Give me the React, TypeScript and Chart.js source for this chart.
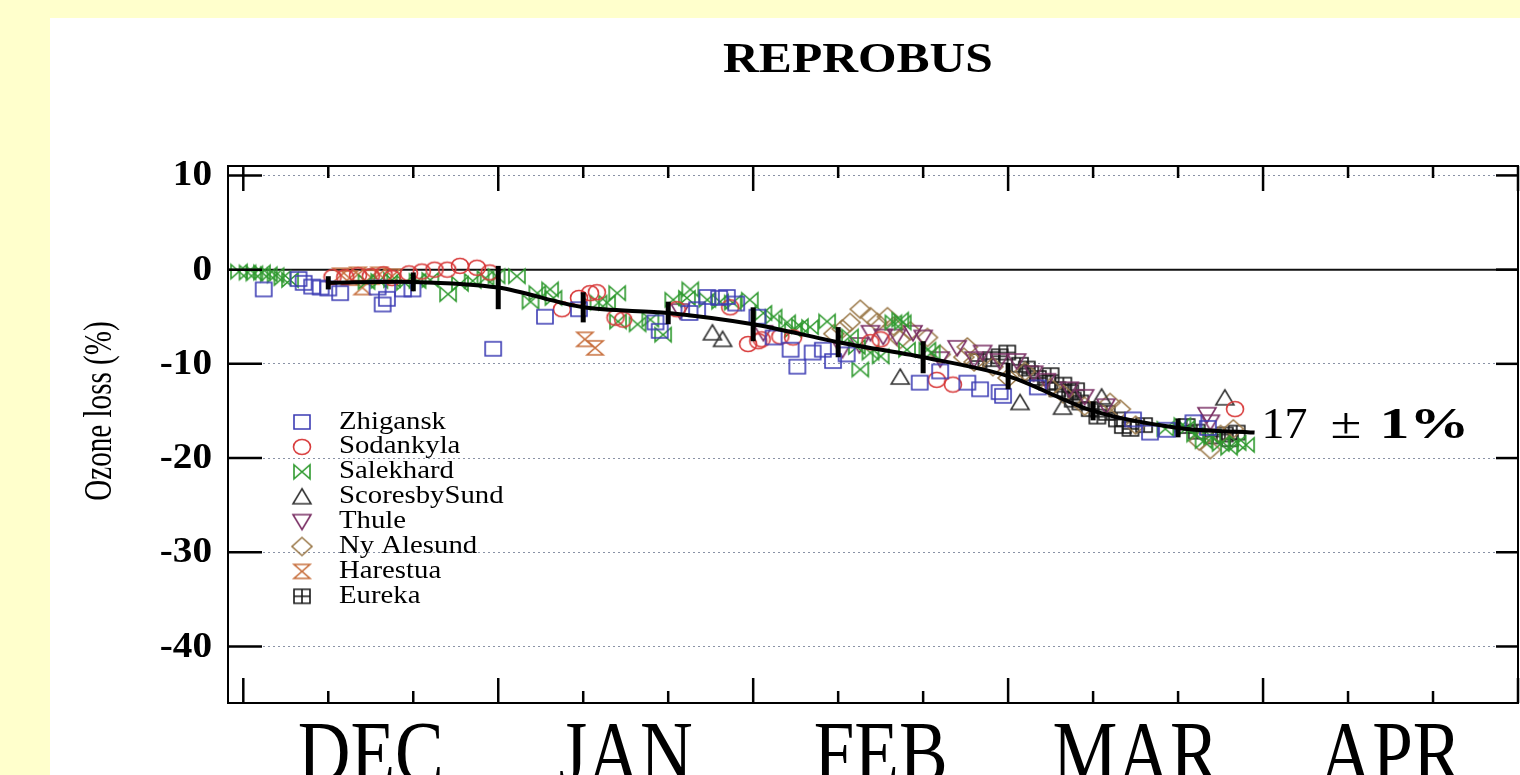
import React, { useEffect, useRef } from 'react';
import { Chart, registerables } from 'chart.js';

Chart.register(...registerables);

// ---------- text ----------
const TITLE = 'REPROBUS';
const Y_TITLE = 'Ozone loss (%)';
const MONTHS = ['DEC', 'JAN', 'FEB', 'MAR', 'APR'];
const MONTH_CENTERS = [15, 45, 75, 105, 135]; // days since 1 Dec
const X_TICKS = [0, 10, 20, 30, 40, 50, 60, 70, 80, 90, 100, 110, 120, 130, 140, 150];
const MONTH_LEN = 30;
const ANNOT_PARTS = ['17', '±', '1%'];

// ---------- axis ranges ----------
const X_MIN = -1.8;
const X_MAX = 150;
const Y_MIN = -46;
const Y_MAX = 11;
const Y_STEP = 10;

// ---------- station data: [day since 1 Dec, ozone loss %] ----------
const zhigansk = [
  [2.4, -2.1], [6.5, -1.0], [7.1, -1.4], [8.1, -1.8], [9.1, -1.9], [10.0, -2.0], [11.4, -2.5],
  [15.8, -1.9], [16.4, -3.7], [16.9, -3.1], [18.8, -2.1], [19.9, -2.1], [29.4, -8.4], [35.5, -5.0],
  [39.5, -4.2], [48.5, -5.6], [49.0, -6.5], [52.5, -4.6], [53.4, -4.2], [54.6, -2.9], [56.0, -3.0],
  [56.9, -2.9], [58.0, -3.6], [60.5, -5.0], [62.4, -7.2], [64.4, -8.5], [65.2, -10.3], [67.0, -8.8],
  [68.2, -8.5], [69.4, -9.7], [71.0, -9.0], [79.6, -12.0], [82.0, -10.8], [85.2, -12.0], [86.7, -12.7],
  [89.0, -13.0], [89.4, -13.4], [93.5, -12.5], [104.7, -15.9], [106.7, -17.3], [108.7, -17.0],
  [111.8, -16.2], [113.5, -16.8],
];
const sodankyla = [
  [10.5, -0.8], [12.0, -0.8], [13.5, -0.6], [15.0, -0.7], [16.5, -0.5], [17.5, -0.9], [19.5, -0.4],
  [21.0, -0.2], [22.5, 0.0], [24.0, 0.0], [25.5, 0.4], [27.5, 0.2], [29.0, -0.3], [37.5, -4.2],
  [39.5, -3.0], [40.8, -2.5], [41.6, -2.4], [43.8, -5.1], [44.7, -5.3], [51.0, -4.2], [57.3, -4.0],
  [59.4, -7.9], [60.6, -7.6], [61.0, -7.4], [63.2, -7.1], [64.7, -7.2], [73.8, -7.7], [75.0, -7.4],
  [81.6, -11.7], [83.5, -12.2], [116.7, -14.8],
];
const salekhard = [
  [-0.5, -0.2], [0.5, -0.3], [1.3, -0.4], [2.2, -0.3], [3.0, -0.5], [3.8, -0.6], [4.6, -0.9], [5.5, -1.1],
  [14.5, -1.3], [16.0, -1.2], [17.5, -1.1], [19.0, -1.4], [20.5, -1.2], [22.0, -1.1], [24.1, -2.6],
  [25.5, -1.5], [27.0, -1.2], [28.5, -0.9], [29.8, -0.7], [32.2, -0.7], [33.8, -3.4], [34.6, -2.5],
  [36.1, -2.1], [36.5, -3.0], [41.8, -3.5], [42.8, -3.5], [44.0, -2.5], [44.1, -5.5], [46.4, -5.8],
  [47.9, -5.3], [49.4, -6.9], [50.6, -3.2], [52.2, -3.0], [52.6, -2.1], [54.6, -3.2], [56.1, -3.4],
  [57.6, -3.5], [59.6, -3.2], [61.2, -4.6], [62.4, -5.0], [64.0, -5.6], [64.7, -6.4], [65.5, -6.0],
  [66.7, -6.1], [68.7, -5.5], [71.4, -7.1], [72.2, -8.2], [72.6, -10.6], [73.8, -8.8], [75.0, -9.2],
  [76.5, -5.6], [77.3, -5.3], [77.6, -5.6], [78.1, -8.5], [80.5, -8.5], [81.0, -8.8], [108.5, -16.9],
  [110.5, -16.5], [111.0, -16.8], [112.0, -17.5], [113.0, -18.2], [114.0, -17.8], [115.0, -18.5],
  [116.0, -18.9], [117.0, -18.4], [118.0, -18.6],
];
const scoresbySund = [
  [55.2, -6.7], [56.4, -7.4], [77.3, -11.4], [91.4, -14.1], [96.4, -14.6], [101.0, -13.5], [115.5, -13.6],
];
const thule = [
  [51.4, -4.4], [61.2, -6.7], [70.5, -8.5], [72.5, -8.0], [73.8, -6.7], [75.3, -7.1], [76.9, -7.1],
  [78.8, -6.7], [80.0, -7.2], [82.0, -9.5], [84.0, -8.3], [86.0, -9.5], [87.0, -8.8], [89.0, -9.7],
  [91.0, -9.7], [93.0, -11.0], [94.5, -11.8], [97.2, -12.7], [99.0, -13.5], [101.5, -14.5],
  [113.4, -15.4], [113.8, -16.2],
];
const nyAlesund = [
  [69.5, -6.8], [70.5, -6.3], [71.4, -5.6], [72.6, -4.2], [73.8, -5.0], [74.6, -5.6], [75.8, -5.0],
  [76.5, -6.0], [77.3, -7.4], [78.5, -6.5], [80.5, -7.2], [82.0, -9.0], [85.2, -8.2], [84.8, -9.3],
  [86.0, -9.8], [88.2, -10.3], [90.0, -11.5], [92.0, -10.8], [95.0, -12.5], [96.5, -13.2], [99.0, -14.5],
  [102.0, -14.1], [103.2, -14.8], [105.0, -16.5], [112.5, -18.2], [113.8, -19.1], [115.0, -17.5],
  [116.5, -16.9],
];
const harestua = [
  [11.5, -0.6], [12.5, -0.9], [13.5, -0.5], [14.0, -1.9], [15.0, -0.8], [16.0, -0.5], [17.5, -0.7],
  [40.2, -7.4], [41.4, -8.3],
];
const eureka = [
  [86.5, -9.7], [88.0, -9.5], [89.0, -9.2], [89.9, -8.8], [91.4, -10.1], [92.2, -10.5], [92.6, -11.0],
  [93.5, -11.5], [94.6, -12.0], [95.0, -11.2], [95.8, -12.7], [96.5, -12.2], [97.3, -13.0], [97.6, -13.8],
  [98.0, -12.8], [98.5, -14.1], [99.6, -14.8], [100.5, -15.6], [101.6, -15.2], [102.8, -15.9],
  [103.5, -16.6], [104.4, -16.9], [106.0, -16.5], [111.0, -16.6], [112.2, -17.2], [114.1, -17.7],
  [115.5, -17.5], [116.1, -18.0], [116.9, -17.3],
];

// ---------- mean loss with error bars ----------
const meanDays = [10, 20, 30, 40, 50, 60, 70, 80, 90, 100, 110, 119];
const meanLoss = [-1.4, -1.3, -1.9, -4.0, -4.6, -5.8, -7.7, -9.3, -11.3, -15.0, -16.8, -17.3];
const meanErr = [0.7, 1.0, 2.3, 1.6, 1.2, 1.8, 1.6, 1.7, 1.4, 1.0, 1.0, 0];

const STATIONS = [
  { label: 'Zhigansk', data: zhigansk, shape: 'square', color: '#3c3cb4' },
  { label: 'Sodankyla', data: sodankyla, shape: 'circle', color: '#d83a3a' },
  { label: 'Salekhard', data: salekhard, shape: 'bowtie', color: '#2f9a2f' },
  { label: 'ScoresbySund', data: scoresbySund, shape: 'triUp', color: '#333333' },
  { label: 'Thule', data: thule, shape: 'triDown', color: '#7a2f64' },
  { label: 'Ny Alesund', data: nyAlesund, shape: 'diamond', color: '#9a7848' },
  { label: 'Harestua', data: harestua, shape: 'hourglass', color: '#c8703e' },
  { label: 'Eureka', data: eureka, shape: 'boxplus', color: '#1a1a1a' },
];

const SERIF = '"Liberation Serif", "DejaVu Serif", serif';

function makeMarker(shape: string, color: string): HTMLCanvasElement {
  const c = document.createElement('canvas');
  c.width = 24;
  c.height = 22;
  const g = c.getContext('2d') as CanvasRenderingContext2D;
  g.strokeStyle = color;
  g.lineWidth = 1.6;
  const cx = 12;
  const cy = 11;
  g.beginPath();
  switch (shape) {
    case 'square':
      g.rect(cx - 8, cy - 7, 16, 14);
      break;
    case 'circle':
      g.ellipse(cx, cy, 8.5, 7.5, 0, 0, Math.PI * 2);
      break;
    case 'bowtie':
      g.moveTo(cx - 8, cy - 7);
      g.lineTo(cx + 8, cy + 7);
      g.lineTo(cx + 8, cy - 7);
      g.lineTo(cx - 8, cy + 7);
      g.closePath();
      break;
    case 'triUp':
      g.moveTo(cx, cy - 8);
      g.lineTo(cx + 9, cy + 7);
      g.lineTo(cx - 9, cy + 7);
      g.closePath();
      break;
    case 'triDown':
      g.moveTo(cx, cy + 8);
      g.lineTo(cx + 9, cy - 7);
      g.lineTo(cx - 9, cy - 7);
      g.closePath();
      break;
    case 'diamond':
      g.moveTo(cx, cy - 9);
      g.lineTo(cx + 10, cy);
      g.lineTo(cx, cy + 9);
      g.lineTo(cx - 10, cy);
      g.closePath();
      break;
    case 'hourglass':
      g.moveTo(cx - 8, cy - 7);
      g.lineTo(cx + 8, cy - 7);
      g.lineTo(cx - 8, cy + 7);
      g.lineTo(cx + 8, cy + 7);
      g.closePath();
      break;
    case 'boxplus':
      g.rect(cx - 8, cy - 7, 16, 14);
      g.moveTo(cx, cy - 7);
      g.lineTo(cx, cy + 7);
      g.moveTo(cx - 8, cy);
      g.lineTo(cx + 8, cy);
      break;
  }
  g.stroke();
  return c;
}

function drawText(
  ctx: CanvasRenderingContext2D, text: string, x: number, y: number, font: string,
  align: CanvasTextAlign, baseline: CanvasTextBaseline, sx = 1, sy = 1, rot = 0,
) {
  ctx.save();
  ctx.translate(x, y);
  if (rot) ctx.rotate(rot);
  ctx.scale(sx, sy);
  ctx.font = font;
  ctx.textAlign = align;
  ctx.textBaseline = baseline;
  ctx.fillStyle = '#000';
  ctx.fillText(text, 0, 0);
  ctx.restore();
}

function seg(ctx: CanvasRenderingContext2D, x1: number, y1: number, x2: number, y2: number) {
  ctx.beginPath();
  ctx.moveTo(x1, y1);
  ctx.lineTo(x2, y2);
  ctx.stroke();
}

const decorPlugin = {
  id: 'decor',
  beforeDatasetsDraw(chart: any) {
    const { ctx, chartArea: a, scales } = chart;
    const y0 = scales.y.getPixelForValue(0);
    ctx.save();
    ctx.strokeStyle = '#111';
    ctx.lineWidth = 2;
    seg(ctx, a.left, y0, a.right, y0);
    ctx.restore();
  },
  afterDatasetsDraw(chart: any) {
    const { ctx, chartArea: a, scales } = chart;
    const xs = scales.x;
    const ys = scales.y;
    ctx.save();
    ctx.strokeStyle = '#000';
    ctx.lineCap = 'butt';

    // error bars on the mean curve
    ctx.lineWidth = 5;
    meanDays.forEach((d, i) => {
      if (!meanErr[i]) return;
      const px = xs.getPixelForValue(d);
      seg(ctx, px, ys.getPixelForValue(meanLoss[i] + meanErr[i]), px, ys.getPixelForValue(meanLoss[i] - meanErr[i]));
    });

    // frame
    ctx.lineWidth = 2;
    ctx.strokeRect(a.left, a.top, a.right - a.left, a.bottom - a.top);

    // x ticks (inward, top and bottom)
    ctx.lineWidth = 2.5;
    X_TICKS.forEach((v) => {
      const px = xs.getPixelForValue(v);
      const len = v % MONTH_LEN === 0 ? 25 : 12;
      seg(ctx, px, a.bottom, px, a.bottom - len);
      seg(ctx, px, a.top, px, a.top + len);
    });

    // y ticks and labels
    ys.ticks.forEach((t: any) => {
      const py = ys.getPixelForValue(t.value);
      ctx.lineWidth = 2.5;
      seg(ctx, a.left, py, a.left + 34, py);
      seg(ctx, a.right, py, a.right - 22, py);
      drawText(ctx, String(t.value), a.left - 16, py + 1, `bold 35px ${SERIF}`, 'right', 'middle', 1.12);
    });

    // title
    drawText(ctx, TITLE, 858, 72, `bold 42px ${SERIF}`, 'center', 'alphabetic', 1.18);
    // y axis title
    drawText(ctx, Y_TITLE, 100, 411, `30px ${SERIF}`, 'center', 'middle', 0.97, 1.35, -Math.PI / 2);
    // month labels
    MONTHS.forEach((m, i) => {
      drawText(ctx, m, xs.getPixelForValue(MONTH_CENTERS[i]), 782, `89px ${SERIF}`, 'center', 'alphabetic', 0.82);
    });

    // legend
    const ds = chart.data.datasets.filter((d: any) => d.inLegend);
    ds.forEach((d: any, i: number) => {
      const ly = 421 + i * 24.9;
      const img = d.pointStyle as HTMLCanvasElement;
      ctx.drawImage(img, 302 - img.width / 2, ly - img.height / 2 + 1);
      drawText(ctx, d.label, 339, ly + 1, `25px ${SERIF}`, 'left', 'middle', 1.15);
    });

    // end annotation
    const last = meanDays.length - 1;
    const ex = xs.getPixelForValue(meanDays[last]);
    const ey = ys.getPixelForValue(meanLoss[last]) + 5;
    drawText(ctx, ANNOT_PARTS[0], ex + 7, ey, `45px ${SERIF}`, 'left', 'alphabetic', 1.02);
    drawText(ctx, ANNOT_PARTS[1], ex + 76, ey, `45px ${SERIF}`, 'left', 'alphabetic', 1.25);
    drawText(ctx, ANNOT_PARTS[2], ex + 125, ey, `bold 45px ${SERIF}`, 'left', 'alphabetic', 1.33);
    ctx.restore();
  },
};

export default function App() {
  const ref = useRef<HTMLCanvasElement | null>(null);

  useEffect(() => {
    if (!ref.current) return;
    const scatterSets = STATIONS.map((s) => ({
      type: 'scatter' as const,
      label: s.label,
      inLegend: true,
      data: s.data.map(([x, y]) => ({ x, y })),
      pointStyle: makeMarker(s.shape, s.color),
      pointRadius: 8,
      borderColor: s.color,
      backgroundColor: 'transparent',
      showLine: false,
    }));
    const meanSet = {
      type: 'line' as const,
      label: 'mean',
      inLegend: false,
      data: meanDays.map((d, i) => ({ x: d, y: meanLoss[i] })),
      borderColor: '#000',
      borderWidth: 4,
      pointRadius: 0,
      tension: 0.3,
      fill: false,
    };
    const chart = new Chart(ref.current, {
      type: 'scatter',
      data: { datasets: [meanSet as any, ...scatterSets] },
      options: {
        responsive: false,
        animation: false,
        layout: { autoPadding: false, padding: { top: 166, left: 0, right: 2, bottom: 72 } },
        plugins: { legend: { display: false }, title: { display: false }, tooltip: { enabled: false } },
        scales: {
          x: {
            type: 'linear',
            min: X_MIN,
            max: X_MAX,
            ticks: { display: false },
            grid: { display: false, drawTicks: false },
            border: { display: false },
            afterFit: (s: any) => { s.height = 0; },
          },
          y: {
            type: 'linear',
            min: Y_MIN,
            max: Y_MAX,
            ticks: { display: false, stepSize: Y_STEP, includeBounds: false },
            grid: { color: '#8a92a6', lineWidth: 1, drawTicks: false },
            border: { display: false, dash: [2, 3] },
            afterFit: (s: any) => { s.width = 228; },
          },
        },
      } as any,
      plugins: [decorPlugin],
    });
    return () => chart.destroy();
  }, []);

  return (
    <div style={{ position: 'fixed', left: 0, top: 0, width: 1520, height: 775, background: '#ffffcc', overflow: 'hidden' }}>
      <div style={{ position: 'absolute', left: 50, top: 18, right: 0, bottom: 0, background: '#ffffff' }} />
      <canvas ref={ref} width={1520} height={775} style={{ position: 'absolute', left: 0, top: 0, display: 'block' }} />
    </div>
  );
}
